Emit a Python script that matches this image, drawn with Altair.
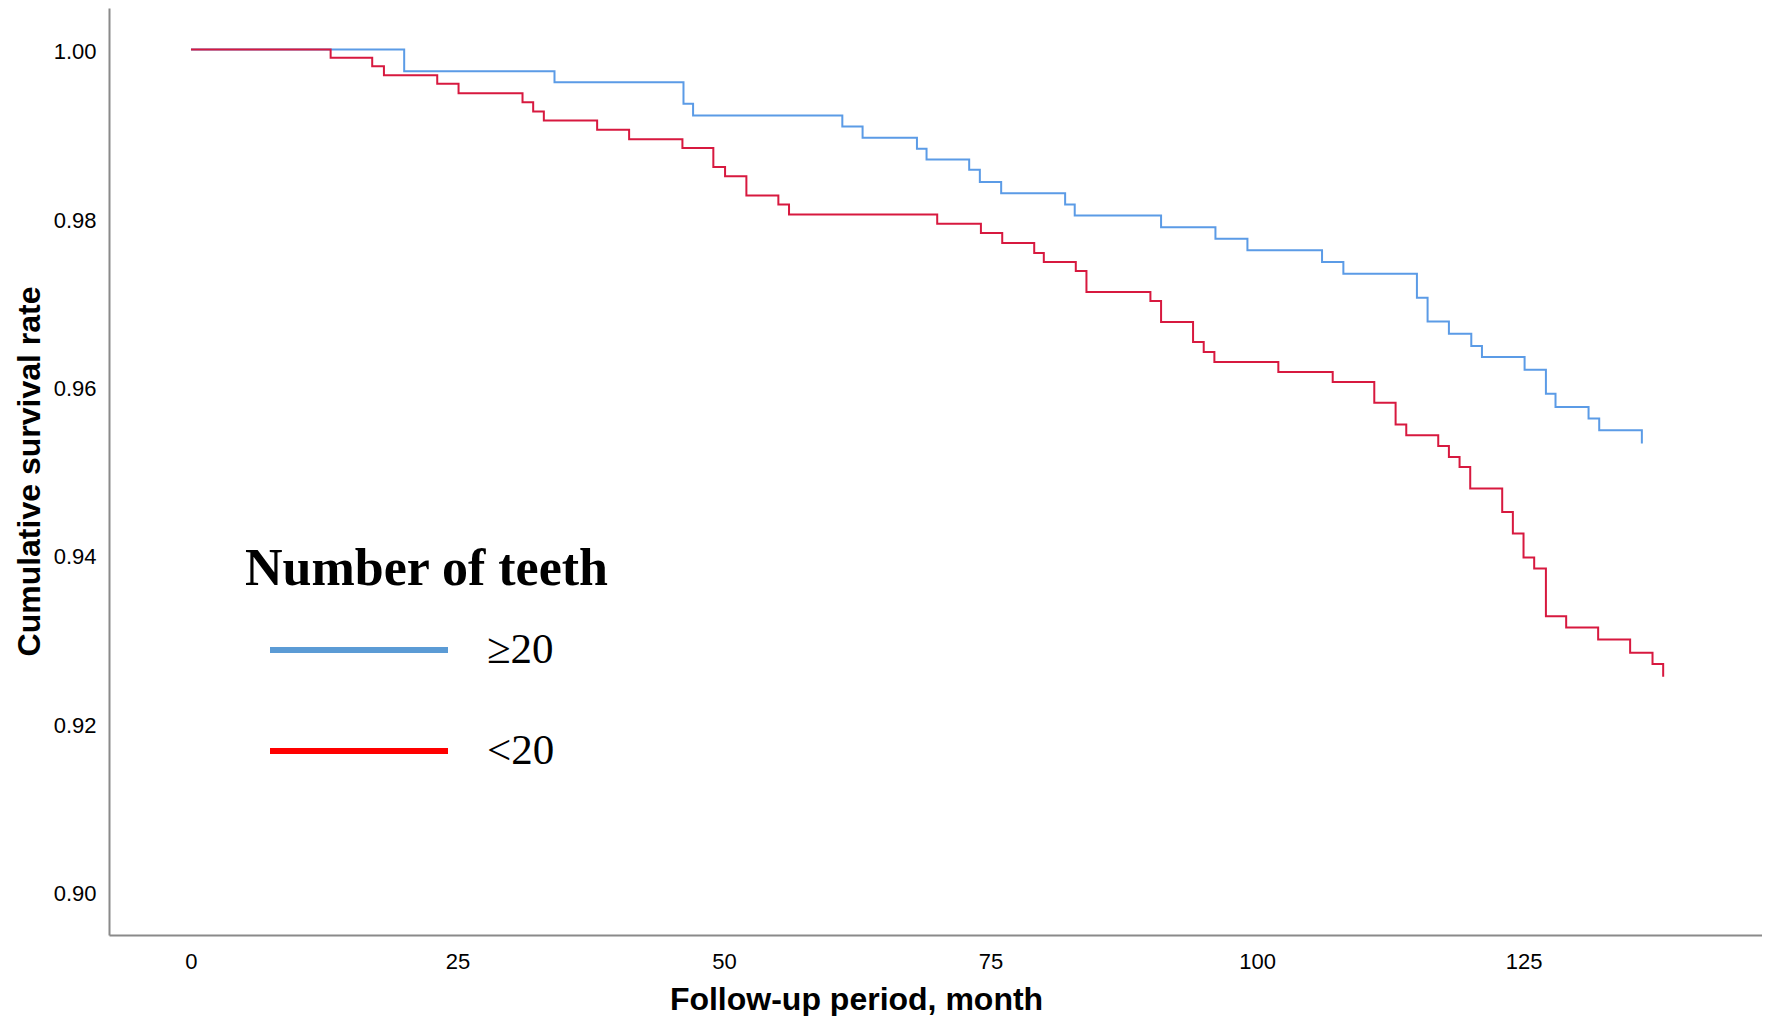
import altair as alt
import pandas as pd

group_labels = ["≥20", "<20"]
line_colors = ["#5b9be6", "#d7193f"]
legend_colors = ["#5b9bd5", "#ff0000"]

blue_month = [0, 20.0, 34.1, 46.2, 47.1, 61.1, 63.0, 68.1, 69.0, 73.0, 74.0, 76.0,
              82.0, 82.9, 91.0, 96.1, 99.1, 106.1, 108.1, 115.0, 116.0, 118.0,
              120.1, 121.1, 125.1, 127.1, 128.0, 131.1, 132.1, 136.1]
blue_surv = [1.000, 0.99743, 0.99612, 0.99356, 0.99217, 0.99087, 0.98952, 0.98822,
             0.98695, 0.98573, 0.98426, 0.98295, 0.98161, 0.98031, 0.97889, 0.97754,
             0.97616, 0.97477, 0.97339, 0.97054, 0.96773, 0.96627, 0.96480, 0.96350,
             0.96200, 0.95915, 0.95757, 0.95619, 0.95480, 0.95322]

red_month = [0, 13.1, 17.0, 18.1, 23.1, 25.1, 31.1, 32.1, 33.1, 38.1, 41.1, 46.1,
             49.0, 50.1, 52.1, 55.1, 56.1, 70.0, 74.1, 76.1, 79.1, 80.0, 83.0, 84.0,
             90.0, 91.0, 94.0, 95.0, 96.0, 102.0, 107.1, 111.0, 113.0, 114.0, 117.0,
             118.0, 119.0, 120.0, 123.0, 124.0, 125.0, 126.0, 127.1, 129.0, 132.0,
             135.0, 137.1, 138.1]
red_surv = [1.000, 0.99901, 0.99802, 0.99695, 0.99593, 0.99482, 0.99375, 0.99265,
            0.99158, 0.99047, 0.98936, 0.98832, 0.98604, 0.98497, 0.98268, 0.98161,
            0.98043, 0.97932, 0.97821, 0.97702, 0.97584, 0.97477, 0.97370, 0.97121,
            0.97014, 0.96765, 0.96528, 0.96409, 0.96290, 0.96172, 0.96053, 0.95808,
            0.95548, 0.95421, 0.95294, 0.95164, 0.95045, 0.94789, 0.94511, 0.94255,
            0.93970, 0.93840, 0.93274, 0.93140, 0.92998, 0.92839, 0.92705, 0.92554]

x_ticks = [0, 25, 50, 75, 100, 125]
y_ticks = [0.90, 0.92, 0.94, 0.96, 0.98, 1.00]

df_blue = pd.DataFrame({"month": blue_month, "surv": blue_surv, "group": group_labels[0]})
df_red = pd.DataFrame({"month": red_month, "surv": red_surv, "group": group_labels[1]})
df_all = pd.concat([df_blue, df_red], ignore_index=True)

x = alt.X(
    "month:Q",
    scale=alt.Scale(domain=[-7.69, 147.37], nice=False, zero=False),
    axis=alt.Axis(
        values=x_ticks, title="Follow-up period, month", grid=False,
        ticks=False, tickSize=0, domainColor="#8a8a8a", domainWidth=2,
        labelFont="Liberation Sans", labelFontSize=22, labelColor="black",
        labelPadding=16,
        titleFont="Liberation Sans", titleFontSize=32, titleFontWeight="bold",
        titleColor="black", titleX=747, titleY=64, titleBaseline="middle",
        titleAlign="center",
    ),
)
y = alt.Y(
    "surv:Q",
    scale=alt.Scale(domain=[0.894896, 1.004926], nice=False, zero=False),
    axis=alt.Axis(
        values=y_ticks, format=".2f", title="Cumulative survival rate", grid=False,
        ticks=False, tickSize=0, domainColor="#8a8a8a", domainWidth=2,
        labelFont="Liberation Sans", labelFontSize=22, labelColor="black",
        labelPadding=13, labelOffset=2,
        titleFont="Liberation Sans", titleFontSize=32, titleFontWeight="bold",
        titleColor="black", titleAngle=270, titleX=-80, titleY=463,
        titleBaseline="middle", titleAlign="center",
    ),
)

legend_color = alt.Color(
    "group:N",
    scale=alt.Scale(domain=group_labels, range=legend_colors),
    legend=alt.Legend(
        orient="none", legendX=136, legendY=536,
        title="Number of teeth",
        titleFont="Liberation Serif", titleFontSize=52, titleFontWeight="bold",
        titleColor="black", titleLimit=1000, titlePadding=29,
        labelFont="Liberation Serif", labelFontSize=43, labelColor="black",
        labelLimit=500, labelOffset=36,
        symbolType="stroke", symbolSize=31684, symbolStrokeWidth=6,
        symbolOpacity=1, symbolOffset=22, clipHeight=50, rowPadding=51, padding=0,
    ),
)

# invisible layer that only carries the legend
legend_layer = alt.Chart(df_all).mark_line(opacity=0, strokeOpacity=0).encode(
    x=x, y=y, color=legend_color
)


def km(df, col):
    return alt.Chart(df).mark_line(
        interpolate="step-after", strokeWidth=2, color=col
    ).encode(x=x, y=y)


chart = (
    alt.layer(legend_layer, km(df_blue, line_colors[0]), km(df_red, line_colors[1]))
    .properties(
        width=1653, height=927,
        autosize=alt.AutoSizeParams(type="none"),
        padding={"left": 101, "top": 0, "right": 0, "bottom": 81},
    )
    .configure_view(stroke=None)
)

chart.save("out.html", embed_options={"renderer": "svg", "actions": False})
